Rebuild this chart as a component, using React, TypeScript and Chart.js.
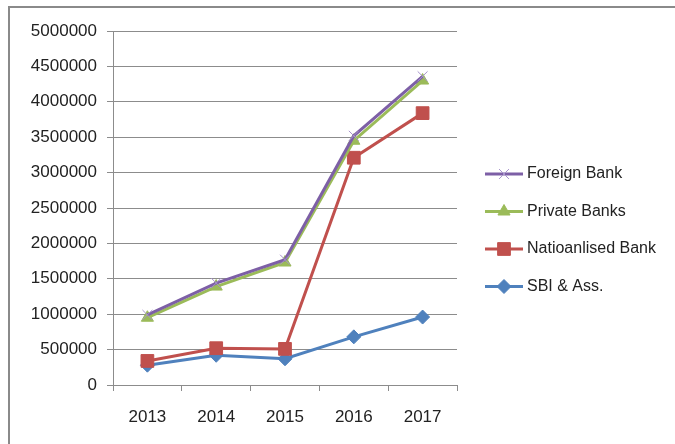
import React, { useEffect, useRef } from 'react';
import { Chart, registerables, PointElement } from 'chart.js';

Chart.register(...registerables);

const years = ['2013', '2014', '2015', '2016', '2017'];
const foreignBank = [990000, 1440000, 1770000, 3520000, 4360000];
const privateBanks = [950000, 1390000, 1730000, 3450000, 4300000];
const nationalisedBank = [340000, 520000, 510000, 3210000, 3840000];
const sbiAss = [280000, 420000, 370000, 680000, 960000];
const seriesNames = ['Foreign Bank', 'Private Banks', 'Natioanlised Bank', 'SBI & Ass.'];
const yMax = 5000000;
const yStep = 500000;

const GRID = '#8c8c8c';
const TEXT = '#222222';
const FONT = 'Liberation Sans';

const frameAndLegend = {
  id: 'frameAndLegend',
  beforeDraw(chart: any) {
    const ctx = chart.ctx;
    ctx.save();
    ctx.fillStyle = '#ffffff';
    ctx.fillRect(0, 0, chart.width, chart.height);
    ctx.fillStyle = '#8a8a8a';
    ctx.fillRect(8, 6, chart.width - 8, 2);
    ctx.fillRect(8, 6, 2, chart.height - 6);
    ctx.restore();
  },
  afterDraw(chart: any) {
    const ctx = chart.ctx;
    const x0 = 485;
    const x1 = 523;
    const yStart = 174;
    const gap = 37.5;
    chart.data.datasets.forEach((ds: any, i: number) => {
      const y = yStart + i * gap;
      ctx.save();
      ctx.strokeStyle = ds.borderColor;
      ctx.lineWidth = 3;
      ctx.beginPath();
      ctx.moveTo(x0, y);
      ctx.lineTo(x1, y);
      ctx.stroke();
      ctx.restore();
      const meta = chart.getDatasetMeta(i);
      const opts = meta.data[0] && meta.data[0].options;
      if (opts) {
        const el: any = new (PointElement as any)({ x: (x0 + x1) / 2, y, options: { ...opts } });
        ctx.save();
        el.draw(ctx, { left: 0, top: 0, right: chart.width, bottom: chart.height });
        ctx.restore();
      }
      ctx.save();
      ctx.fillStyle = TEXT;
      ctx.font = `16px "${FONT}"`;
      ctx.textBaseline = 'middle';
      ctx.textAlign = 'left';
      ctx.fillText(ds.label, 527, y);
      ctx.restore();
    });
  },
};

export default function App() {
  const ref = useRef<HTMLCanvasElement | null>(null);
  useEffect(() => {
    if (!ref.current) return;
    const chart = new Chart(ref.current, {
      type: 'line',
      data: {
        labels: years,
        datasets: [
          {
            label: seriesNames[0],
            data: foreignBank,
            borderColor: '#7D5FA6',
            borderWidth: 3,
            pointStyle: 'crossRot',
            pointRadius: 7,
            pointBorderColor: '#A793CC',
            pointBackgroundColor: 'rgba(0,0,0,0)',
            pointBorderWidth: 1,
          },
          {
            label: seriesNames[1],
            data: privateBanks,
            borderColor: '#9BBB59',
            borderWidth: 3,
            pointStyle: 'triangle',
            pointRadius: 7,
            pointBorderColor: '#9BBB59',
            pointBackgroundColor: '#9BBB59',
            pointBorderWidth: 1,
          },
          {
            label: seriesNames[2],
            data: nationalisedBank,
            borderColor: '#C0504D',
            borderWidth: 3,
            pointStyle: 'rect',
            pointRadius: 9,
            pointBorderColor: '#C0504D',
            pointBackgroundColor: '#C0504D',
            pointBorderWidth: 1,
          },
          {
            label: seriesNames[3],
            data: sbiAss,
            borderColor: '#4F81BD',
            borderWidth: 3,
            pointStyle: 'rectRot',
            pointRadius: 7,
            pointBorderColor: '#4F81BD',
            pointBackgroundColor: '#4F81BD',
            pointBorderWidth: 1,
          },
        ],
      },
      options: {
        responsive: false,
        animation: false,
        layout: { padding: { top: 31, right: 218, left: 0, bottom: 0 } },
        plugins: {
          legend: { display: false },
          tooltip: { enabled: false },
        },
        elements: { line: { tension: 0 } },
        scales: {
          x: {
            type: 'category',
            offset: true,
            grid: {
              offset: true,
              drawOnChartArea: false,
              drawTicks: true,
              tickLength: 6,
              color: GRID,
            },
            border: { display: true, color: GRID },
            ticks: {
              font: { family: FONT, size: 17 },
              color: TEXT,
              padding: 16,
              maxRotation: 0,
            },
            afterFit(scale: any) {
              scale.height = 59;
            },
          },
          y: {
            min: 0,
            max: yMax,
            grid: { color: GRID, tickLength: 6 },
            border: { display: true, color: GRID },
            ticks: {
              stepSize: yStep,
              font: { family: FONT, size: 17 },
              color: TEXT,
              padding: 10,
              callback: (v: any) => String(v),
            },
            afterFit(scale: any) {
              scale.width = 113;
            },
          },
        },
      },
      plugins: [frameAndLegend],
    } as any);
    return () => chart.destroy();
  }, []);
  return (
    <div style={{ position: 'absolute', left: 0, top: 0, width: 675, height: 444 }}>
      <canvas ref={ref} width={675} height={444} style={{ width: 675, height: 444, display: 'block' }} />
    </div>
  );
}
